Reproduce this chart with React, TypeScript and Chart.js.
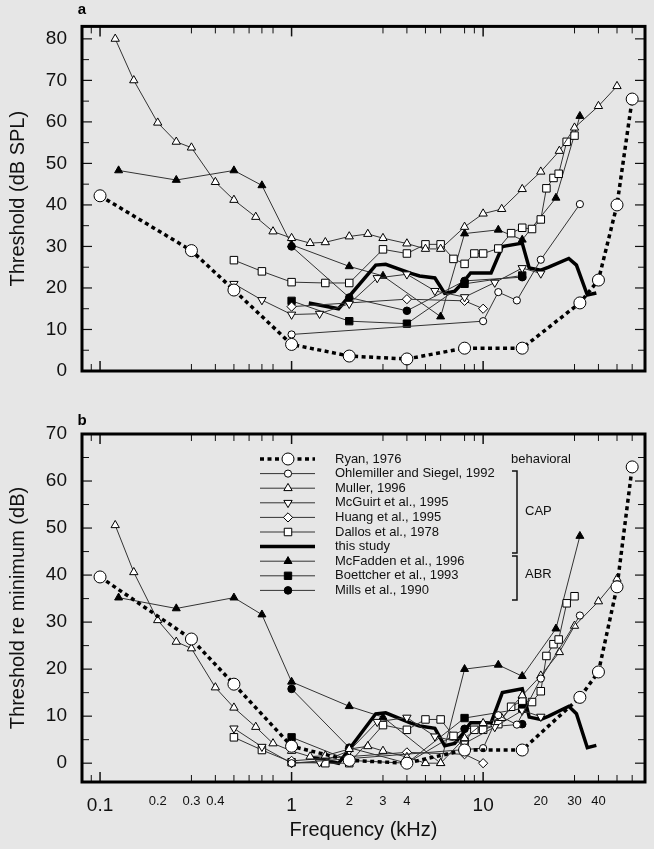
import React, { useEffect, useRef } from "react";
import { Chart, registerables } from "chart.js";
Chart.register(...registerables);

const FONT = "Arial, 'Liberation Sans', Helvetica, sans-serif";

// ---------- data (frequency in kHz, threshold in dB) ----------
const ryanF = [0.1, 0.3, 0.5, 1, 2, 4, 8, 16, 32, 40, 50, 60];
const ryanA = [42.2, 29, 19.5, 6.4, 3.6, 2.9, 5.5, 5.5, 16.4, 21.9, 40, 65.5];
const ryanB = [39.6, 26.4, 16.8, 3.6, 0.6, 0, 2.8, 2.8, 14, 19.4, 37.5, 63];

const ohlF = [1, 10, 12, 15, 20, 32];
const ohlA = [8.8, 12, 19, 17, 26.8, 40.2];
const ohlB = [0, 3.2, 10.2, 8.2, 18, 31.4];

const mulF = [0.12, 0.15, 0.2, 0.25, 0.3, 0.4, 0.5, 0.65, 0.8, 1, 1.25, 1.5, 2, 2.5, 3, 4, 5, 6, 8, 10, 12.5, 16, 20, 25, 30, 40, 50];
const mulA = [80, 70, 59.8, 55.2, 53.8, 45.5, 41.2, 37.1, 33.6, 32, 30.8, 31, 32.4, 33, 32, 30.7, 29.4, 29.4, 34.7, 37.9, 39, 43.8, 48, 53, 58.6, 63.8, 68.6];
const mulB = [50.6, 40.6, 30.4, 25.8, 24.4, 16.1, 11.8, 7.7, 4.2, 2.6, 1.4, 1.6, 3, 3.6, 2.6, 1.3, 0, 0, 5.3, 8.5, 9.6, 14.4, 18.6, 23.6, 29.2, 34.4, 39.2];

const mcgF = [0.5, 0.7, 1, 1.4, 2, 2.8, 4, 5.6, 8, 11.5, 16, 20];
const mcgA = [21, 17.1, 13.6, 13.8, 16.2, 22.4, 23.3, 19.3, 17.8, 21.3, 24.8, 23.5];
const mcgB = [7.4, 3.5, 0, 0.2, 2.6, 8.8, 9.7, 5.7, 4.2, 7.7, 11.2, 9.9];

const huaF = [1, 4, 8, 10];
const huaA = [15.5, 17.3, 16.9, 15];
const huaB = [0.5, 2.3, 1.9, 0];

const dalF = [0.5, 0.7, 1, 1.5, 2, 3, 4, 5, 6, 7, 8, 9, 10, 12, 14, 16, 18, 20, 21.4, 23.3, 24.8, 27.3, 30];
const dalA = [26.7, 24, 21.4, 21.2, 21.2, 29.3, 28.3, 30.5, 30.5, 27, 25.8, 28.3, 28.3, 29.5, 33.2, 34.5, 34.2, 36.5, 44, 46.5, 47.5, 55.2, 56.7];
const dalB = [5.5, 2.8, 0.2, 0, 0, 8.1, 7.1, 9.3, 9.3, 5.8, 4.6, 7.1, 7.1, 8.3, 12, 13.3, 13, 15.3, 22.8, 25.3, 26.3, 34, 35.5];

const thisF = [1.23, 1.76, 2.75, 3.1, 4.2, 4.66, 5.6, 6.3, 7.1, 7.8, 8.6, 11, 12.6, 16, 17.4, 20, 22, 28, 30.7, 35, 39];
const thisA = [16.4, 15, 25.5, 25.7, 23.5, 22.9, 22.4, 18.7, 19.2, 21.2, 23.6, 23.6, 30, 30.8, 24.8, 24.3, 25, 27.1, 25.5, 18.3, 18.8];
const thisB = [1.4, 0, 10.5, 10.7, 8.5, 7.9, 7.4, 3.7, 4.2, 6.2, 8.6, 8.6, 15, 15.8, 9.8, 9.3, 10, 12.1, 10.5, 3.3, 3.8];

const mcfF = [0.125, 0.25, 0.5, 0.7, 1, 2, 3, 6, 8, 12, 16, 24, 32];
const mcfA = [48.3, 46, 48.3, 44.7, 30.4, 25.2, 22.9, 13.1, 33.1, 34, 31.6, 41.7, 61.4];
const mcfB = [35.2, 32.9, 35.2, 31.6, 17.3, 12.1, 9.8, 0, 20, 20.9, 18.5, 28.6, 48.3];

const boeF = [1, 2, 4, 8, 16];
const boeA = [16.9, 12, 11.4, 21, 23];
const boeB = [5.5, 0.6, 0, 9.6, 11.6];

const milF = [1, 2, 4, 8, 16];
const milA = [30, 17.7, 14.5, 21.7, 22.6];
const milB = [15.8, 3.3, 0, 7.3, 8.3];

// ---------- axis ticks ----------
const xLabelValues = [0.1, 0.2, 0.3, 0.4, 1, 2, 3, 4, 10, 20, 30, 40];
const xBigLabels = [0.1, 1, 10];
const xMajorTicks = [0.1, 1, 10];
const xMinorTicks = [0.09, 0.3, 0.4, 0.5, 0.6, 0.7, 0.8, 3, 4, 5, 6, 8, 9, 30, 40, 50, 60];
const yTicksA = [0, 10, 20, 30, 40, 50, 60, 70, 80];
const yMinorA = [5, 15, 25, 35, 45, 55, 65, 75];
const yTicksB = [0, 10, 20, 30, 40, 50, 60, 70];
const yMinorB = [5, 15, 25, 35, 45, 55, 65];

// ---------- series styles ----------
type Style = {
  label: string;
  marker: string;
  radius: number;
  fill: string;
  lineWidth: number;
  lineColor: string;
  dash?: number[];
};
const S: Record<string, Style> = {
  ryan: { label: "Ryan, 1976", marker: "circle", radius: 6, fill: "#fff", lineWidth: 3.5, lineColor: "#000", dash: [4, 3.5] },
  ohl: { label: "Ohlemiller and Siegel, 1992", marker: "circle", radius: 3.6, fill: "#fff", lineWidth: 1, lineColor: "#333" },
  mul: { label: "Muller, 1996", marker: "triangle", radius: 4.8, fill: "#fff", lineWidth: 1, lineColor: "#333" },
  mcg: { label: "McGuirt et al., 1995", marker: "triangleDown", radius: 4.8, fill: "#fff", lineWidth: 1, lineColor: "#333" },
  hua: { label: "Huang et al., 1995", marker: "rectRot", radius: 4.6, fill: "#fff", lineWidth: 1, lineColor: "#333" },
  dal: { label: "Dallos et al., 1978", marker: "rect", radius: 5.3, fill: "#fff", lineWidth: 1, lineColor: "#333" },
  thi: { label: "this study", marker: "none", radius: 0, fill: "#000", lineWidth: 3.5, lineColor: "#000" },
  mcf: { label: "McFadden et al., 1996", marker: "triangle", radius: 4.6, fill: "#000", lineWidth: 1, lineColor: "#333" },
  boe: { label: "Boettcher et al., 1993", marker: "rect", radius: 5.2, fill: "#000", lineWidth: 1, lineColor: "#333" },
  mil: { label: "Mills et al., 1990", marker: "circle", radius: 3.8, fill: "#000", lineWidth: 1, lineColor: "#333" },
};
const legendOrder = ["ryan", "ohl", "mul", "mcg", "hua", "dal", "thi", "mcf", "boe", "mil"];

function makeDataset(key: string, xs: number[], ys: number[]) {
  const s = S[key];
  const isDown = s.marker === "triangleDown";
  return {
    label: s.label,
    data: xs.map((x, i) => ({ x, y: ys[i] })),
    borderColor: s.lineColor,
    borderWidth: s.lineWidth,
    borderDash: s.dash || [],
    pointStyle: s.marker === "none" ? false : isDown ? "triangle" : s.marker,
    pointRotation: isDown ? 180 : 0,
    pointRadius: s.radius,
    pointBackgroundColor: s.fill,
    pointBorderColor: "#000",
    pointBorderWidth: 1,
    tension: 0,
    fill: false,
    showLine: true,
  };
}

function drawMarker(ctx: CanvasRenderingContext2D, marker: string, x: number, y: number, r: number, fill: string) {
  if (marker === "none") return;
  ctx.beginPath();
  if (marker === "circle") {
    ctx.arc(x, y, r, 0, Math.PI * 2);
  } else if (marker === "triangle" || marker === "triangleDown") {
    const sgn = marker === "triangle" ? 1 : -1;
    const h = Math.sin(Math.PI / 3) * r;
    ctx.moveTo(x, y - sgn * r);
    ctx.lineTo(x + h, y + sgn * r * 0.5);
    ctx.lineTo(x - h, y + sgn * r * 0.5);
    ctx.closePath();
  } else if (marker === "rectRot") {
    ctx.moveTo(x, y - r);
    ctx.lineTo(x + r, y);
    ctx.lineTo(x, y + r);
    ctx.lineTo(x - r, y);
    ctx.closePath();
  } else if (marker === "rect") {
    const h = r * Math.SQRT1_2;
    ctx.rect(x - h, y - h, 2 * h, 2 * h);
  }
  ctx.fillStyle = fill;
  ctx.fill();
  ctx.lineWidth = 1;
  ctx.strokeStyle = "#000";
  ctx.setLineDash([]);
  ctx.stroke();
}

const framePlugin = {
  id: "frame",
  afterDatasetsDraw(chart: any, _args: any, opts: any) {
    const { ctx, chartArea: a } = chart;
    const xs = chart.scales.x;
    const ys = chart.scales.y;
    ctx.save();
    ctx.setLineDash([]);
    ctx.strokeStyle = "#111";
    const line = (x1: number, y1: number, x2: number, y2: number) => {
      ctx.beginPath();
      ctx.moveTo(x1, y1);
      ctx.lineTo(x2, y2);
      ctx.stroke();
    };
    ctx.lineWidth = 1.5;
    for (const v of xMajorTicks) {
      const p = xs.getPixelForValue(v);
      line(p, a.bottom, p, a.bottom - 10);
      line(p, a.top, p, a.top + 10);
    }
    ctx.lineWidth = 1;
    for (const v of xMinorTicks) {
      const p = xs.getPixelForValue(v);
      line(p, a.bottom, p, a.bottom - 7);
      line(p, a.top, p, a.top + 7);
    }
    ctx.lineWidth = 1.2;
    for (const v of opts.yMajor) {
      const p = ys.getPixelForValue(v);
      line(a.left, p, a.left + 10, p);
      line(a.right, p, a.right - 10, p);
    }
    ctx.lineWidth = 1;
    for (const v of opts.yMinor) {
      const p = ys.getPixelForValue(v);
      line(a.left, p, a.left + 7, p);
      line(a.right, p, a.right - 7, p);
    }
    ctx.lineWidth = 3;
    ctx.strokeStyle = "#000";
    ctx.strokeRect(a.left, a.top, a.right - a.left, a.bottom - a.top);
    // panel letter
    ctx.fillStyle = "#000";
    ctx.font = `bold 15px ${FONT}`;
    ctx.textAlign = "center";
    ctx.textBaseline = "middle";
    ctx.fillText(opts.letter, opts.letterX, opts.letterY);

    if (opts.legend) {
      const x0 = 260, x1 = 315, xm = 288, xt = 335, y0 = 59, dy = 14.6;
      legendOrder.forEach((k, i) => {
        const s = S[k];
        const y = y0 + i * dy;
        ctx.strokeStyle = s.lineColor;
        ctx.lineWidth = s.lineWidth;
        ctx.setLineDash(s.dash || []);
        ctx.beginPath();
        ctx.moveTo(x0, y);
        ctx.lineTo(x1, y);
        ctx.stroke();
        ctx.setLineDash([]);
        drawMarker(ctx, s.marker, xm, y, s.radius, s.fill);
        ctx.fillStyle = "#111";
        ctx.font = `13px ${FONT}`;
        ctx.textAlign = "left";
        ctx.textBaseline = "middle";
        ctx.fillText(s.label, xt, y);
      });
      ctx.fillStyle = "#111";
      ctx.font = `13px ${FONT}`;
      ctx.textAlign = "left";
      ctx.fillText("behavioral", 511, 59);
      ctx.fillText("CAP", 525, 111);
      ctx.fillText("ABR", 525, 174);
      ctx.strokeStyle = "#111";
      ctx.lineWidth = 1.5;
      ctx.beginPath();
      ctx.moveTo(512, 71); ctx.lineTo(517, 71); ctx.lineTo(517, 153); ctx.lineTo(512, 153);
      ctx.moveTo(512, 156); ctx.lineTo(517, 156); ctx.lineTo(517, 200); ctx.lineTo(512, 200);
      ctx.stroke();
    }
    ctx.restore();
  },
};

function buildConfig(panel: "a" | "b") {
  const A = panel === "a";
  const sets = A
    ? [
        makeDataset("ryan", ryanF, ryanA),
        makeDataset("ohl", ohlF, ohlA),
        makeDataset("mul", mulF, mulA),
        makeDataset("mcg", mcgF, mcgA),
        makeDataset("hua", huaF, huaA),
        makeDataset("dal", dalF, dalA),
        makeDataset("thi", thisF, thisA),
        makeDataset("mcf", mcfF, mcfA),
        makeDataset("boe", boeF, boeA),
        makeDataset("mil", milF, milA),
      ]
    : [
        makeDataset("ryan", ryanF, ryanB),
        makeDataset("ohl", ohlF, ohlB),
        makeDataset("mul", mulF, mulB),
        makeDataset("mcg", mcgF, mcgB),
        makeDataset("hua", huaF, huaB),
        makeDataset("dal", dalF, dalB),
        makeDataset("thi", thisF, thisB),
        makeDataset("mcf", mcfF, mcfB),
        makeDataset("boe", boeF, boeB),
        makeDataset("mil", milF, milB),
      ];
  const yTicks = A ? yTicksA : yTicksB;
  return {
    type: "line",
    data: { datasets: sets },
    plugins: [framePlugin],
    options: {
      animation: false,
      responsive: false,
      devicePixelRatio: 1,
      layout: { padding: { top: A ? 23 : 34, right: 9, left: 0, bottom: 0 } },
      plugins: {
        legend: { display: false },
        tooltip: { enabled: false },
        frame: {
          letter: panel,
          letterX: 82,
          letterY: A ? 10 : 21,
          yMajor: yTicks,
          yMinor: A ? yMinorA : yMinorB,
          legend: !A,
        },
      },
      scales: {
        x: {
          type: "logarithmic",
          min: 0.0805,
          max: 70,
          afterFit: (s: any) => {
            s.height = A ? 29 : 67;
          },
          afterBuildTicks: (s: any) => {
            s.ticks = xLabelValues.map((v) => ({ value: v, major: xBigLabels.includes(v) }));
          },
          grid: { display: false, drawTicks: false },
          border: { display: false },
          ticks: {
            display: !A,
            autoSkip: false,
            maxRotation: 0,
            minRotation: 0,
            padding: 12,
            color: "#111",
            callback: (v: any) => String(v),
            font: (c: any) => ({
              family: FONT,
              size: c.tick && xBigLabels.includes(c.tick.value) ? 19 : 13,
            }),
          },
          title: {
            display: !A,
            text: "Frequency (kHz)",
            color: "#111",
            font: { family: FONT, size: 20 },
            padding: { top: 0, bottom: 7 },
          },
        },
        y: {
          type: "linear",
          min: A ? 0 : -4,
          max: A ? 83 : 70,
          afterFit: (s: any) => {
            s.width = 82;
          },
          afterBuildTicks: (s: any) => {
            s.ticks = yTicks.map((v) => ({ value: v }));
          },
          grid: { display: false, drawTicks: false },
          border: { display: false },
          ticks: {
            padding: 15,
            color: "#111",
            font: { family: FONT, size: 19 },
          },
          title: {
            display: true,
            text: A ? "Threshold (dB SPL)" : "Threshold re minimum (dB)",
            color: "#111",
            font: { family: FONT, size: 20 },
            padding: { top: 6, bottom: 0 },
          },
        },
      },
    },
  };
}

export default function App() {
  const c1 = useRef<HTMLCanvasElement>(null);
  const c2 = useRef<HTMLCanvasElement>(null);
  useEffect(() => {
    document.body.style.background = "#e6e6e6";
    const ch1 = new Chart(c1.current as HTMLCanvasElement, buildConfig("a") as any);
    const ch2 = new Chart(c2.current as HTMLCanvasElement, buildConfig("b") as any);
    return () => {
      ch1.destroy();
      ch2.destroy();
    };
  }, []);
  return (
    <div style={{ position: "absolute", left: 0, top: 0, width: 654, height: 849, background: "#e6e6e6", overflow: "hidden" }}>
      <canvas ref={c1} width={654} height={400} style={{ position: "absolute", left: 0, top: 0, width: 654, height: 400 }} />
      <canvas ref={c2} width={654} height={449} style={{ position: "absolute", left: 0, top: 400, width: 654, height: 449 }} />
    </div>
  );
}
